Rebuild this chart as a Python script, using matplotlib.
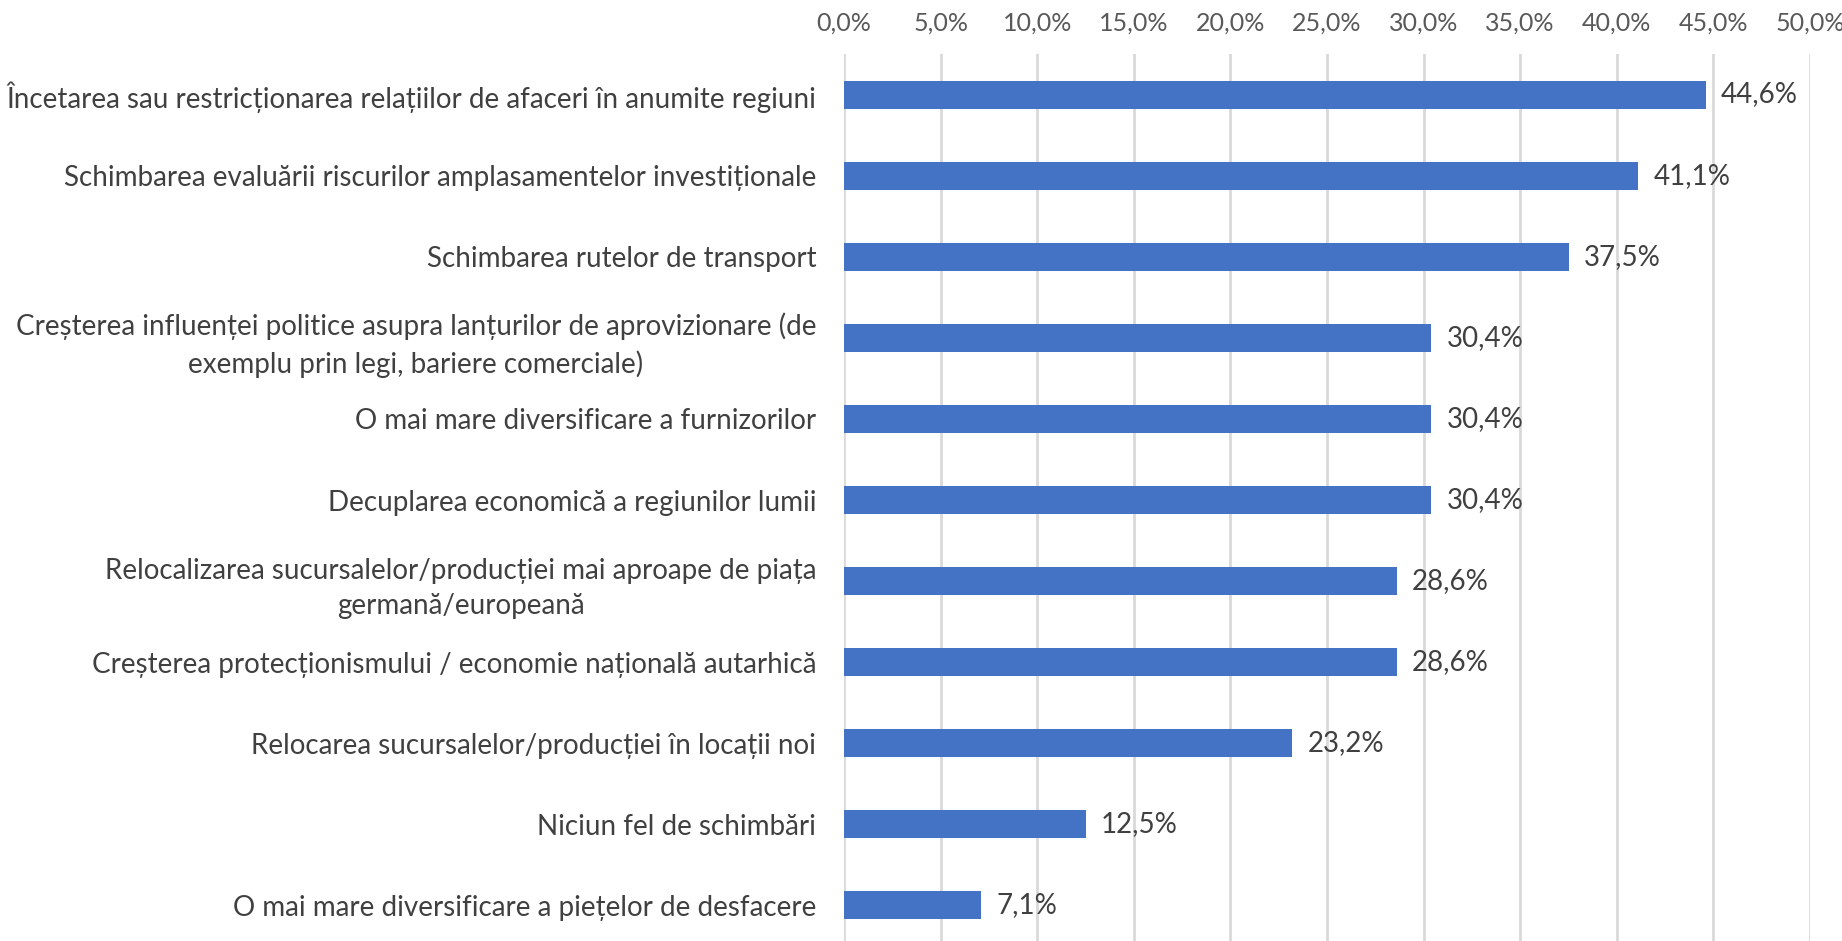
import matplotlib
matplotlib.use("Agg")
import matplotlib.pyplot as plt
from matplotlib.ticker import FuncFormatter

categories = [
    "Încetarea sau restricționarea relațiilor de afaceri în anumite regiuni",
    "Schimbarea evaluării riscurilor amplasamentelor investiționale",
    "Schimbarea rutelor de transport",
    "Creșterea influenței politice asupra lanțurilor de aprovizionare (de\nexemplu prin legi, bariere comerciale)",
    "O mai mare diversificare a furnizorilor",
    "Decuplarea economică a regiunilor lumii",
    "Relocalizarea sucursalelor/producției mai aproape de piața\ngermană/europeană",
    "Creșterea protecționismului / economie națională autarhică",
    "Relocarea sucursalelor/producției în locații noi",
    "Niciun fel de schimbări",
    "O mai mare diversificare a piețelor de desfacere",
]
values = [44.6, 41.1, 37.5, 30.4, 30.4, 30.4, 28.6, 28.6, 23.2, 12.5, 7.1]
xticks = [0, 5, 10, 15, 20, 25, 30, 35, 40, 45, 50]

plt.rcParams['font.family'] = ['Lato', 'DejaVu Sans']

fig = plt.figure(figsize=(18.42, 9.41), dpi=100)
ax = fig.add_axes([844/1842, 1 - 946/941, (1810-844)/1842, 892/941])

ypos = list(range(len(categories)))
ax.barh(ypos, values, height=0.345, color='#4472C4', zorder=3)
ax.set_ylim(len(categories) - 0.5, -0.5)
ax.set_xlim(0, 50)
ax.set_xticks(xticks)
ax.xaxis.set_major_formatter(FuncFormatter(lambda v, p: f"{v:.1f}".replace('.', ',') + "%"))
ax.xaxis.tick_top()
ax.tick_params(axis='x', length=0, pad=14, labelsize=18, labelcolor='#595959')
ax.grid(axis='x', color='#D9D9D9', linewidth=2, zorder=0)
for s in ax.spines.values():
    s.set_visible(False)

ax.set_yticks(ypos)
ax.set_yticklabels(categories, fontsize=20, color='#404040', multialignment='center', linespacing=1.45)
ax.tick_params(axis='y', length=0, pad=20)

for y, v in zip(ypos, values):
    ax.text(v + 0.8, y, f"{v:.1f}".replace('.', ',') + "%", va='center', ha='left',
            fontsize=20, color='#404040', zorder=4)

fig.savefig("out.png", dpi=100)
